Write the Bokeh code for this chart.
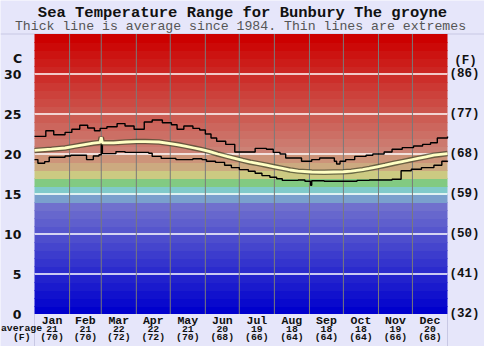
from bokeh.plotting import figure
from bokeh.models import Range1d
from bokeh.core.properties import value
from bokeh.embed import file_html
from bokeh.resources import INLINE

# ---------------- data ----------------
months = ["Jan", "Feb", "Mar", "Apr", "May", "Jun", "Jul", "Aug", "Sep", "Oct", "Nov", "Dec"]
month_days = [31, 28, 31, 30, 31, 30, 31, 31, 30, 31, 30, 31]
avg_c = [21, 21, 22, 22, 21, 20, 19, 18, 18, 18, 19, 20]
avg_f = [70, 70, 72, 72, 70, 68, 66, 64, 64, 64, 66, 68]
c_ticks = [0, 5, 10, 15, 20, 25, 30]
f_labels = ["(32)", "(41)", "(50)", "(59)", "(68)", "(77)", "(86)"]

max_days = [0, 10, 17, 27, 33, 40, 47, 53, 58, 64, 73, 80, 88, 97, 104, 113, 121, 126, 132,
            140, 146, 151, 156, 161, 169, 177, 195, 205, 211, 217, 222, 236, 245, 252, 265,
            267, 270, 275, 283, 293, 299, 309, 316, 325, 335, 343, 350, 356, 365]
max_vals = [22.2, 22.9, 22.4, 22.7, 23.1, 23.6, 23.25, 22.9, 23.2, 23.4, 23.8, 23.5, 23.1, 24.0,
            24.25, 23.9, 23.65, 23.1, 23.5, 23.2, 23.0, 22.5, 22.0, 21.6, 21.2, 20.25, 20.7,
            20.6, 20.2, 20.0, 19.5, 19.1, 19.3, 19.5, 19.1, 18.75, 19.1, 19.3, 19.7, 19.85,
            20.0, 20.25, 20.6, 20.8, 21.0, 21.2, 21.4, 22.0, 22.2]

min_days = [0, 3, 9, 13, 27, 32, 46, 52, 57, 59, 60, 72, 80, 101, 104, 112, 125, 140, 148,
            152, 160, 168, 174, 181, 189, 195, 201, 208, 214, 219, 233, 239, 244, 245, 256,
            270, 285, 296, 316, 324, 333, 342, 353, 360, 365]
min_vals = [19.3, 18.85, 19.05, 19.6, 19.75, 19.85, 19.3, 19.75, 19.9, 22.0, 20.05, 20.3,
            20.2, 20.1, 19.7, 19.45, 19.3, 19.4, 19.3, 19.1, 18.95, 18.6, 18.3, 18.05, 17.85,
            17.6, 17.3, 17.1, 16.9, 16.7, 16.75, 16.6, 16.1, 16.65, 16.6, 16.6, 16.7, 16.75,
            16.85, 17.9, 18.1, 18.3, 18.6, 19.1, 19.15]

avg_days = [0, 15, 27, 35, 43, 52, 58, 59, 60, 70, 81, 90, 98, 110, 120, 127, 134, 141, 148,
            155, 162, 170, 177, 184, 191, 198, 205, 212, 219, 226, 233, 245, 256, 273, 280,
            285, 290, 296, 303, 310, 318, 325, 332, 339, 346, 353, 359, 365]
avg_vals = [20.45, 20.6, 20.75, 20.95, 21.15, 21.35, 21.45, 22.1, 21.4, 21.4, 21.5, 21.55,
            21.55, 21.5, 21.3, 21.15, 20.95, 20.75, 20.55, 20.3, 20.0, 19.7, 19.45, 19.2,
            18.97, 18.8, 18.6, 18.4, 18.2, 18.0, 17.86, 17.75, 17.72, 17.78, 17.85, 17.95,
            18.05, 18.2, 18.4, 18.6, 18.85, 19.05, 19.25, 19.45, 19.65, 19.85, 19.95, 20.05]

T_MAX = 35
N_DAYS = 365

# ---------------- layout (canvas pixels) ----------------
W, H = 484, 346
CH_L, CH_R, CH_T, CH_B = 34.0, 447.0, 33.5, 313.5
kx = (CH_R - CH_L) / N_DAYS
ky = (CH_B - CH_T) / T_MAX


def X(px):
    return (px - CH_L) / kx


def Y(py):
    return (CH_B - py) / ky


bounds = [0]
for d in month_days:
    bounds.append(bounds[-1] + d)
mid_days = [(bounds[i] + bounds[i + 1]) / 2 for i in range(12)]


def band_color(i):
    if i <= 13:
        c = int(round(i * 112 / 13))
        return "#%02x%02x%02x" % (c, c, 205)
    fixed = {14: (122, 160, 205), 15: (128, 202, 202), 16: (130, 202, 130),
             17: (204, 202, 130), 18: (204, 170, 128), 19: (205, 148, 122)}
    if i in fixed:
        return "#%02x%02x%02x" % fixed[i]
    f = (34 - i) / 14
    return "#%02x%02x%02x" % (204, int(round(130 * f)), int(round(118 * f)))


band_lo = list(range(T_MAX))
band_bot = [b - 0.12 if b > 0 else b for b in band_lo]
band_hi = [b + 1 for b in band_lo]
band_cols = [band_color(i) for i in band_lo]

BG = "#E6E6FA"
p = figure(width=W, height=H, x_range=Range1d(X(0), X(W)), y_range=Range1d(Y(H), Y(0)),
           output_backend="svg", toolbar_location=None, min_border=0,
           x_axis_type=None, y_axis_type=None,
           background_fill_color=BG, border_fill_color=BG, outline_line_color=None)
p.xgrid.visible = False
p.ygrid.visible = False

# faint frame lines of the page
p.segment(x0=[X(0)], y0=[T_MAX], x1=[X(W)], y1=[T_MAX], line_color="#C8C8E4", line_width=1)
p.segment(x0=[0, N_DAYS], y0=[0, 0], x1=[0, N_DAYS], y1=[Y(H), Y(H)],
          line_color="#C8C8E4", line_width=1)

# colour bands
p.quad(left=0, right=N_DAYS, bottom=band_bot, top=band_hi, fill_color=band_cols,
       line_color=None)

# grid lines
p.segment(x0=[0] * 6, y0=c_ticks[1:], x1=[N_DAYS] * 6, y1=c_ticks[1:],
          line_color="white", line_width=1.6)
p.segment(x0=bounds[1:-1], y0=[0] * 11, x1=bounds[1:-1], y1=[T_MAX] * 11,
          line_color="#7a7a7a", line_width=1)

# data lines
p.step(max_days, max_vals, mode="after", line_color="black", line_width=1.4)
p.step(min_days, min_vals, mode="after", line_color="black", line_width=1.4)
p.line(avg_days, avg_vals, line_color="#4a4a30", line_width=5.5, line_alpha=0.75)
p.line(avg_days, avg_vals, line_color="#FFFFC4", line_width=2.8)

MONO = value("Liberation Mono")

# titles
p.text(x=[X(242)], y=[Y(12.4)], text=["Sea Temperature Range for Bunbury The groyne"],
       text_font=MONO, text_font_style="bold", text_font_size="15.5px",
       text_align="center", text_baseline="middle", text_color="#111111")
p.text(x=[X(240)], y=[Y(26.4)],
       text=["Thick line is average since 1984. Thin lines are extremes"],
       text_font=MONO, text_font_size="13.2px", text_color="#555555",
       text_align="center", text_baseline="middle")

# left (C) tick labels
p.text(x=[X(21)] * len(c_ticks), y=c_ticks, text=[str(t) for t in c_ticks],
       text_font=value("DejaVu Sans"), text_font_style="bold", text_font_size="12.5px",
       text_align="right", text_baseline="middle", text_color="#111111")
p.text(x=[X(17)], y=[Y(58.3)], text=["C"],
       text_font=value("DejaVu Sans"), text_font_style="bold", text_font_size="12.5px",
       text_align="center", text_baseline="middle", text_color="#111111")

# right (F) tick labels
p.text(x=[X(464)] * len(c_ticks), y=c_ticks, text=f_labels,
       text_font=MONO, text_font_style="bold", text_font_size="12.5px",
       text_align="center", text_baseline="middle", text_color="#111111")
p.text(x=[X(465)], y=[Y(60)], text=["(F)"],
       text_font=MONO, text_font_style="bold", text_font_size="12.5px",
       text_align="center", text_baseline="middle", text_color="#111111")

# month names and averages
p.text(x=mid_days, y=[Y(319.5)] * 12, text=months,
       text_font=MONO, text_font_style="bold", text_font_size="11.5px",
       text_align="center", text_baseline="middle", text_color="#111111")
p.text(x=mid_days, y=[Y(328.3)] * 12, text=[str(v) for v in avg_c],
       text_font=MONO, text_font_style="bold", text_font_size="9.8px",
       text_align="center", text_baseline="middle", text_color="#111111")
p.text(x=mid_days, y=[Y(337.3)] * 12, text=["(%d)" % v for v in avg_f],
       text_font=MONO, text_font_style="bold", text_font_size="9.8px",
       text_align="center", text_baseline="middle", text_color="#111111")
p.text(x=[X(21), X(21.3)], y=[Y(328.3), Y(337.3)], text=["average", "(F)"],
       text_font=MONO, text_font_style="bold", text_font_size="9.8px",
       text_align="center", text_baseline="middle", text_color="#111111")

open("out.html", "w").write(file_html(p, INLINE))
